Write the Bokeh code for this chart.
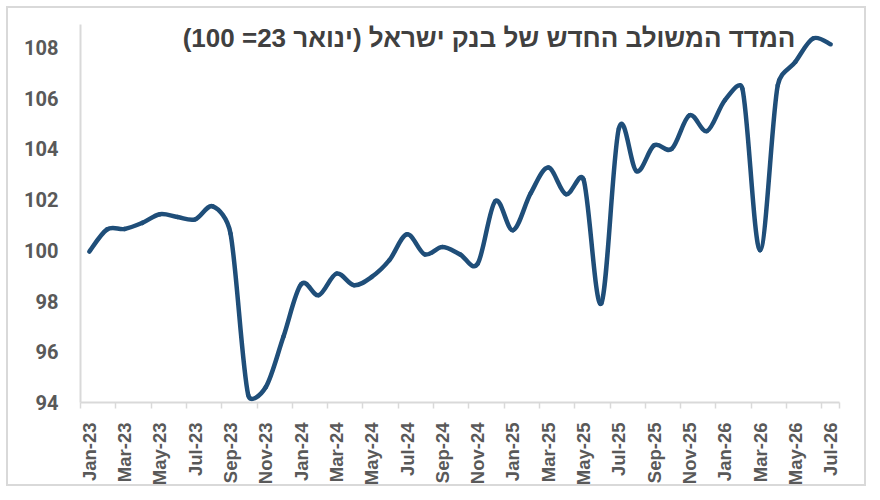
import math
from bokeh.plotting import figure
from bokeh.models import Range1d, FixedTicker, Label
from bokeh.embed import file_html
from bokeh.resources import INLINE

months = ["Jan-23", "Feb-23", "Mar-23", "Apr-23", "May-23", "Jun-23", "Jul-23", "Aug-23",
          "Sep-23", "Oct-23", "Nov-23", "Dec-23",
          "Jan-24", "Feb-24", "Mar-24", "Apr-24", "May-24", "Jun-24", "Jul-24", "Aug-24",
          "Sep-24", "Oct-24", "Nov-24", "Dec-24",
          "Jan-25", "Feb-25", "Mar-25", "Apr-25", "May-25", "Jun-25", "Jul-25", "Aug-25",
          "Sep-25", "Oct-25", "Nov-25", "Dec-25",
          "Jan-26", "Feb-26", "Mar-26", "Apr-26", "May-26", "Jun-26", "Jul-26"]

index_values = [99.95, 100.82, 100.84, 101.08, 101.42, 101.31, 101.22, 101.73,
                100.66, 94.30, 94.61, 96.60,
                98.66, 98.23, 99.08, 98.62, 98.95, 99.61, 100.63, 99.84,
                100.13, 99.84, 99.47, 101.94,
                100.79, 102.24, 103.26, 102.21, 102.79, 97.90, 104.80, 103.12,
                104.14, 104.00, 105.32, 104.70,
                105.91, 106.37, 100.00, 106.50, 107.43, 108.35, 108.12]

y_ticks = [94, 96, 98, 100, 102, 104, 106, 108]

title_text = "המדד המשולב החדש של בנק ישראל (ינואר 23= 100)"

n = len(months)
xs = list(range(n))

W, H = 860, 480
BL, BR, BT, BB = 72, 29, 16, 86
Y0, Y1 = 94, 108.9

p = figure(width=W, height=H, output_backend="svg", toolbar_location=None,
           x_range=Range1d(-0.5, n - 0.5), y_range=Range1d(Y0, Y1),
           min_border_left=BL, min_border_right=BR, min_border_top=BT, min_border_bottom=BB)
p.styles = {"border": "2px solid #d9d9d9", "margin": "6px 0 0 6px"}
p.background_fill_color = "white"
p.border_fill_color = "white"
p.outline_line_color = None
p.xgrid.grid_line_color = None
p.ygrid.grid_line_color = None

# smoothed line: cubic segments through the data points, tangents computed in
# screen proportions and limited so the curve does not overshoot wildly
sx = (W - BL - BR) / n
sy = (H - BT - BB) / (Y1 - Y0)
P = [(xs[i] * sx, index_values[i] * sy) for i in range(n)]


def arm(i, seg_len):
    a = P[max(i - 1, 0)]
    b = P[min(i + 1, n - 1)]
    tx, ty = (b[0] - a[0]) / 6.0, (b[1] - a[1]) / 6.0
    L = math.hypot(tx, ty)
    cap = 0.5 * seg_len
    if L > cap and L > 0:
        tx, ty = tx * cap / L, ty * cap / L
    return tx, ty


x0, y0, x1, y1, cx0, cy0, cx1, cy1 = [], [], [], [], [], [], [], []
for i in range(n - 1):
    pa, pb = P[i], P[i + 1]
    seg = math.hypot(pb[0] - pa[0], pb[1] - pa[1])
    ta = arm(i, seg)
    tb = arm(i + 1, seg)
    x0.append(xs[i]); y0.append(index_values[i])
    x1.append(xs[i + 1]); y1.append(index_values[i + 1])
    cx0.append((pa[0] + ta[0]) / sx); cy0.append((pa[1] + ta[1]) / sy)
    cx1.append((pb[0] - tb[0]) / sx); cy1.append((pb[1] - tb[1]) / sy)

p.bezier(x0=x0, y0=y0, x1=x1, y1=y1, cx0=cx0, cy0=cy0, cx1=cx1, cy1=cy1,
         line_color="#1f4e79", line_width=4.5, line_cap="round")

# y axis
p.yaxis.ticker = FixedTicker(ticks=y_ticks)
p.yaxis.major_tick_line_color = None
p.yaxis.minor_tick_line_color = None
p.yaxis.major_tick_out = 0
p.yaxis.major_tick_in = 0
p.yaxis.axis_line_color = "#d9d9d9"
p.yaxis.axis_line_width = 2
p.yaxis.major_label_standoff = 22
p.yaxis.major_label_text_font = "Roboto"
p.yaxis.major_label_text_font_style = "bold"
p.yaxis.major_label_text_font_size = "20px"
p.yaxis.major_label_text_color = "#595959"

# x axis
label_pos = list(range(0, n, 2))
p.xaxis.ticker = FixedTicker(ticks=label_pos,
                             minor_ticks=[i - 0.5 for i in range(0, n, 2)] + [n - 0.5])
p.xaxis.major_label_overrides = {i: months[i] for i in label_pos}
p.xaxis.major_tick_line_color = None
p.xaxis.major_tick_out = 0
p.xaxis.major_tick_in = 0
p.xaxis.minor_tick_line_color = "#d9d9d9"
p.xaxis.minor_tick_line_width = 1.5
p.xaxis.minor_tick_out = 6
p.xaxis.minor_tick_in = 0
p.xaxis.axis_line_color = "#d9d9d9"
p.xaxis.axis_line_width = 2
p.xaxis.major_label_orientation = math.pi / 2
p.xaxis.major_label_standoff = 14
p.xaxis.major_label_text_font = "Liberation Sans"
p.xaxis.major_label_text_font_style = "bold"
p.xaxis.major_label_text_font_size = "18.5px"
p.xaxis.major_label_text_color = "#595959"

title = Label(x=40.0, y=108.38, text=title_text + "\u200f", text_align="right",
              text_baseline="middle", text_font="Liberation Sans", text_font_style="bold",
              text_font_size="26px", text_color="#404040")
p.add_layout(title)

open("out.html", "w").write(file_html(p, INLINE))
